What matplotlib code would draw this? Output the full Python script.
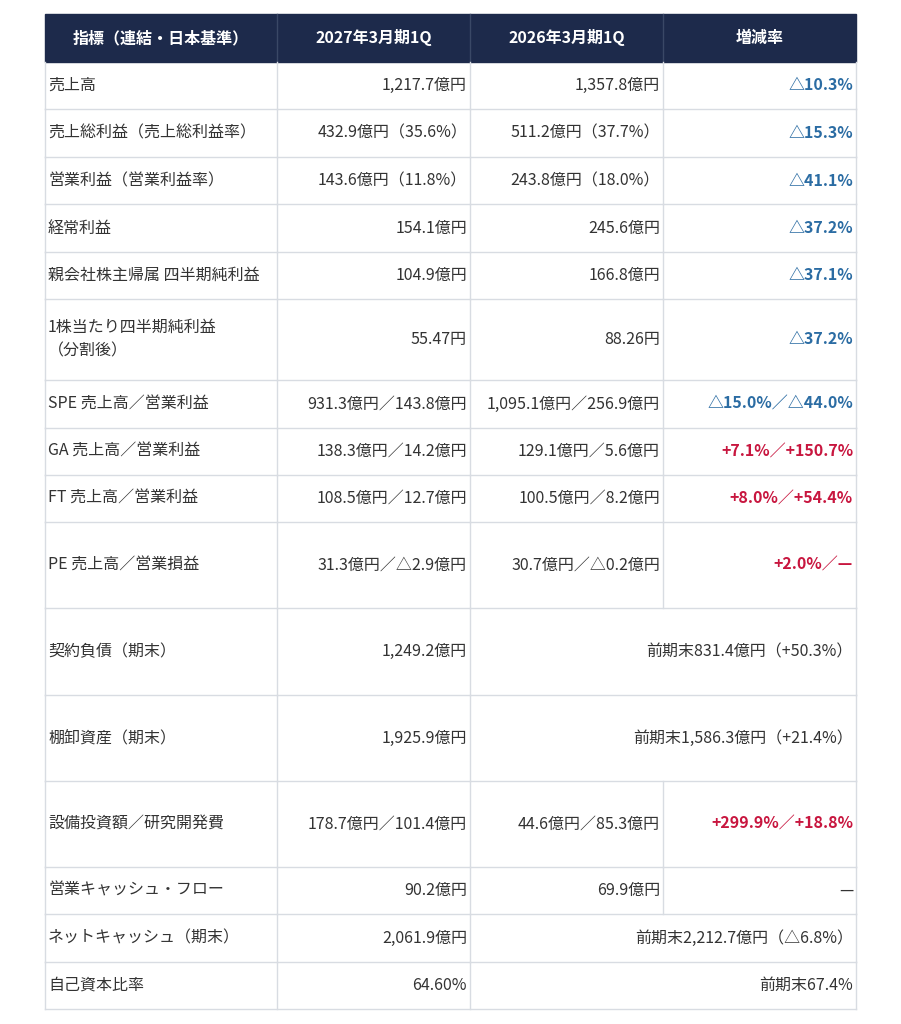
import matplotlib
matplotlib.use("Agg")
import matplotlib.pyplot as plt
from matplotlib.patches import Rectangle

plt.rcParams['font.family'] = ['Noto Sans CJK JP', 'DejaVu Sans']

headers = ["指標（連結・日本基準）", "2027年3月期1Q", "2026年3月期1Q", "増減率"]
labels = ["売上高", "売上総利益（売上総利益率）", "営業利益（営業利益率）", "経常利益",
          "親会社株主帰属 四半期純利益", "1株当たり四半期純利益\n（分割後）",
          "SPE 売上高／営業利益", "GA 売上高／営業利益", "FT 売上高／営業利益",
          "PE 売上高／営業損益", "契約負債（期末）", "棚卸資産（期末）",
          "設備投資額／研究開発費", "営業キャッシュ・フロー", "ネットキャッシュ（期末）", "自己資本比率"]
current = ["1,217.7億円", "432.9億円（35.6%）", "143.6億円（11.8%）", "154.1億円", "104.9億円",
           "55.47円", "931.3億円／143.8億円", "138.3億円／14.2億円", "108.5億円／12.7億円",
           "31.3億円／△2.9億円", "1,249.2億円", "1,925.9億円", "178.7億円／101.4億円",
           "90.2億円", "2,061.9億円", "64.60%"]
previous = ["1,357.8億円", "511.2億円（37.7%）", "243.8億円（18.0%）", "245.6億円", "166.8億円",
            "88.26円", "1,095.1億円／256.9億円", "129.1億円／5.6億円", "100.5億円／8.2億円",
            "30.7億円／△0.2億円", "前期末831.4億円（+50.3%）", "前期末1,586.3億円（+21.4%）",
            "44.6億円／85.3億円", "69.9億円", "前期末2,212.7億円（△6.8%）", "前期末67.4%"]
change = ["△10.3%", "△15.3%", "△41.1%", "△37.2%", "△37.1%", "△37.2%", "△15.0%／△44.0%",
          "+7.1%／+150.7%", "+8.0%／+54.4%", "+2.0%／—", None, None, "+299.9%／+18.8%", "—", None, None]
change_tone = ["b", "b", "b", "b", "b", "b", "b", "r", "r", "r", None, None, "r", "k", None, None]

row_edges = [62, 109, 157, 204, 252, 299, 380, 428, 475, 522, 608, 695, 781, 867, 914, 962, 1009]
col_edges = [45, 277, 470, 663, 856]
tone_color = {"b": "#2b6ca3", "r": "#c8163f", "k": "#333333"}

fig = plt.figure(figsize=(9.01, 10.24), dpi=100)
ax = fig.add_axes([0, 0, 1, 1])
ax.set_xlim(0, 901); ax.set_ylim(1024, 0); ax.axis('off')

FS = 11.5
grid = "#d8dce2"
# header
ax.add_patch(Rectangle((45, 14), 811, 48, color="#1d2a4b", zorder=1))
for i, h in enumerate(headers):
    cx = (col_edges[i] + col_edges[i + 1]) / 2
    ax.text(cx, 38, h, ha='center', va='center', color='white', fontsize=FS, fontweight='bold')
for x in col_edges[1:-1]:
    ax.plot([x, x], [14, 62], color="#3a4866", lw=1)

txt = "#333333"
for r in range(len(labels)):
    y0, y1 = row_edges[r], row_edges[r + 1]
    cy = (y0 + y1) / 2
    ax.plot([45, 856], [y1, y1], color=grid, lw=1)
    ax.text(48, cy, labels[r], ha='left', va='center', color=txt, fontsize=FS, linespacing=1.5)
    ax.text(col_edges[2] - 3, cy, current[r], ha='right', va='center', color=txt, fontsize=FS)
    merged = change[r] is None
    ax.text((856 if merged else col_edges[3]) - 3, cy, previous[r], ha='right', va='center', color=txt, fontsize=FS)
    xs = [45, 277, 470, 856] if merged else col_edges
    for x in xs:
        ax.plot([x, x], [y0, y1], color=grid, lw=1)
    if not merged:
        ax.text(853, cy, change[r], ha='right', va='center', color=tone_color[change_tone[r]],
                fontsize=FS, fontweight='bold' if change_tone[r] != "k" else 'normal')

fig.savefig("out.png", dpi=100)
